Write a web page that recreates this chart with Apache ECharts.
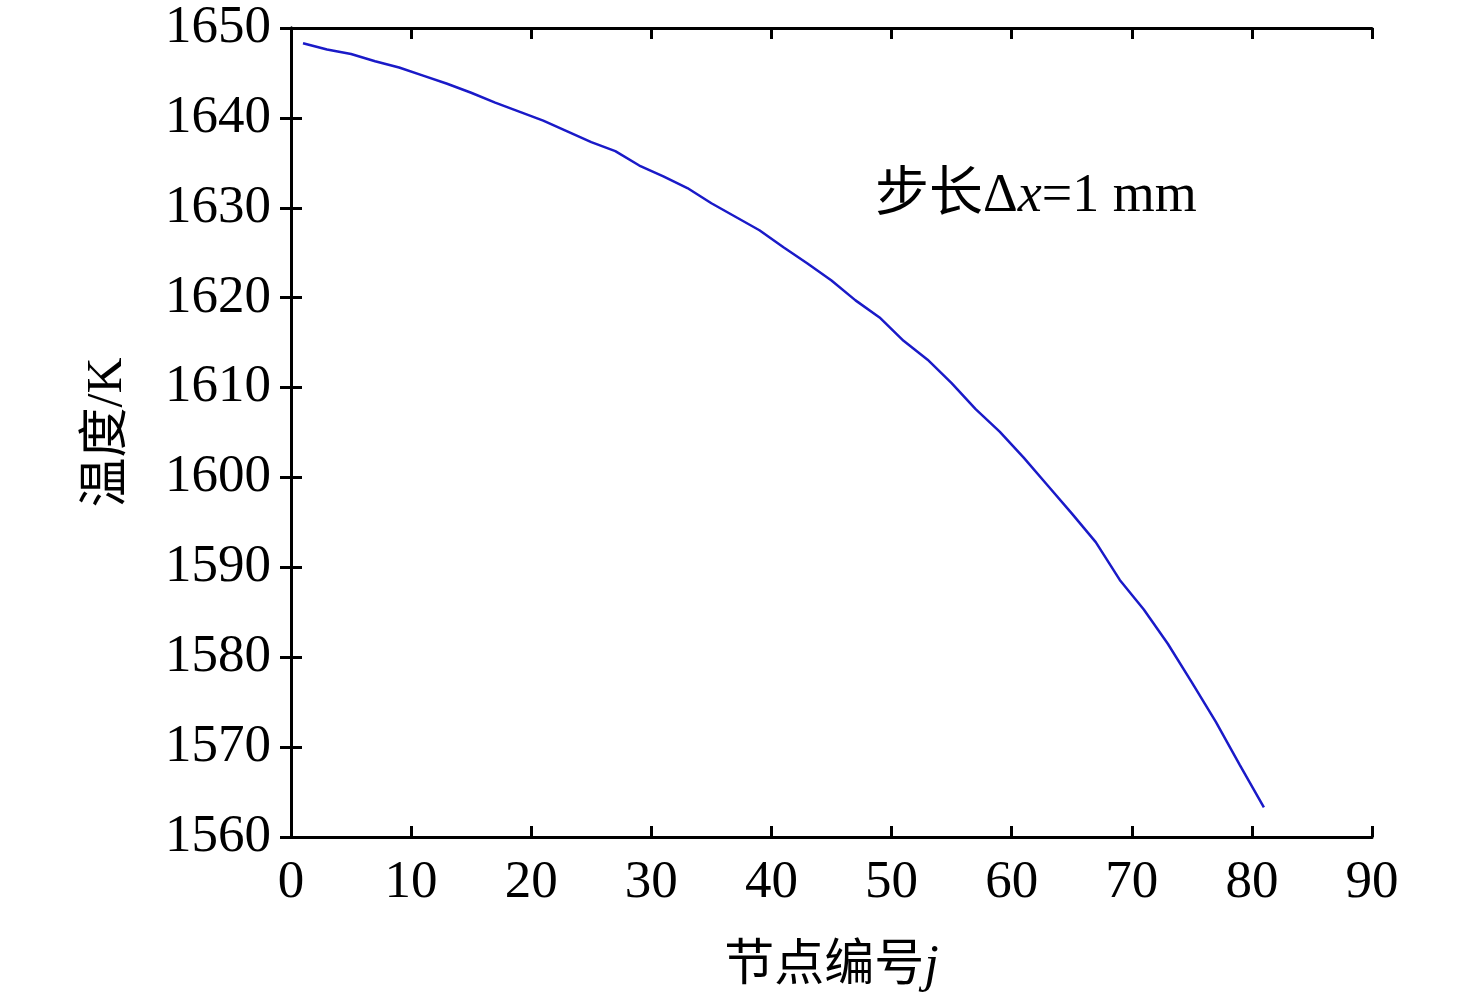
<!DOCTYPE html>
<html lang="zh">
<head>
    <meta charset="UTF-8">
    <title>节点温度分布</title>
    <style type="text/css">
        body{
            margin: 0px;
            padding: 0px;
            background: #ffffff;
        }
        #chart{
            width: 1476px;
            height: 1000px;
        }
    </style>
</head>
<body>
    <div id="chart"></div>
</body>
<script src="https://cdn.jsdelivr.net/npm/echarts@6/dist/echarts.min.js" type="text/javascript"></script>
<script type="text/javascript">
    // 节点编号 j (每隔一个节点读取)
    var nodes = [1, 3, 5, 7, 9, 11, 13, 15, 17, 19,
                 21, 23, 25, 27, 29, 31, 33, 35, 37, 39,
                 41, 43, 45, 47, 49, 51, 53, 55, 57, 59,
                 61, 63, 65, 67, 69, 71, 73, 75, 77, 79, 81];
    // 温度/K
    var temps = [1648.3, 1647.6, 1647.1, 1646.3, 1645.6, 1644.7, 1643.8, 1642.8, 1641.7, 1640.7,
                 1639.7, 1638.5, 1637.3, 1636.3, 1634.7, 1633.5, 1632.2, 1630.5, 1629.0, 1627.5,
                 1625.6, 1623.8, 1621.9, 1619.7, 1617.8, 1615.2, 1613.1, 1610.5, 1607.6, 1605.1,
                 1602.2, 1599.1, 1596.0, 1592.8, 1588.6, 1585.3, 1581.5, 1577.2, 1572.8, 1568.0, 1563.3];
    var xTicks = [0, 90, 10];      // min, max, interval
    var yTicks = [1560, 1650, 10];

    var fontFam = '"Liberation Serif", "Times New Roman", "Noto Sans CJK SC", serif';
    var lineData = [];
    for (var i = 0; i < nodes.length; i++) {
        lineData.push([nodes[i], temps[i]]);
    }

    var axisLine = {show: true, lineStyle: {color: '#000', width: 3}};
    var tick = {show: true, inside: true, length: 11, lineStyle: {color: '#000', width: 3}};
    var plain = function (v) { return String(v); };

    var option = {
        backgroundColor: '#ffffff',
        animation: false,
        textStyle: {fontFamily: fontFam},
        grid: {left: 291, right: 104, top: 28, bottom: 163},
        xAxis: [
            {
                type: 'value', min: xTicks[0], max: xTicks[1], interval: xTicks[2],
                position: 'bottom',
                name: '节点编号{i|j}',
                nameLocation: 'middle',
                nameGap: 104,
                nameTextStyle: {
                    fontFamily: fontFam, fontSize: 50, color: '#000',
                    rich: {i: {fontFamily: fontFam, fontStyle: 'italic', fontSize: 52, color: '#000'}}
                },
                axisLine: axisLine, axisTick: tick,
                axisLabel: {fontSize: 53, color: '#000', margin: 20, fontFamily: fontFam, formatter: plain},
                splitLine: {show: false}
            },
            {
                type: 'value', min: xTicks[0], max: xTicks[1], interval: xTicks[2],
                position: 'top',
                axisLine: axisLine, axisTick: tick,
                axisLabel: {show: false}, splitLine: {show: false}
            }
        ],
        yAxis: [
            {
                type: 'value', min: yTicks[0], max: yTicks[1], interval: yTicks[2],
                position: 'left',
                name: '温度/K',
                nameLocation: 'middle',
                nameGap: 158,
                nameTextStyle: {fontFamily: fontFam, fontSize: 50, color: '#000'},
                axisLine: axisLine, axisTick: tick,
                axisLabel: {fontSize: 53, color: '#000', margin: 20, fontFamily: fontFam, formatter: plain},
                splitLine: {show: false}
            },
            {
                type: 'value', min: yTicks[0], max: yTicks[1], interval: yTicks[2],
                position: 'right',
                axisLine: axisLine, axisTick: tick,
                axisLabel: {show: false}, splitLine: {show: false}
            }
        ],
        graphic: [
            {
                type: 'text', left: 875, top: 170,
                style: {
                    text: '步长Δ{i|x}=1 mm',
                    fontFamily: fontFam, fontSize: 54, fill: '#000',
                    rich: {i: {fontFamily: fontFam, fontStyle: 'italic', fontSize: 54, fill: '#000'}}
                }
            }
        ],
        series: [
            {
                type: 'line',
                data: lineData,
                showSymbol: false,
                smooth: false,
                lineStyle: {color: '#1a1ac8', width: 2.5}
            }
        ]
    };

    var myChart = echarts.init(document.getElementById('chart'));
    myChart.setOption(option);
</script>
</html>
